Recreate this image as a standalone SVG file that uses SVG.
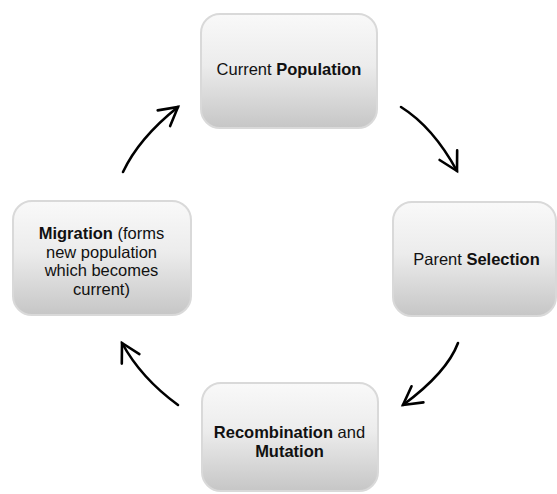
<svg xmlns="http://www.w3.org/2000/svg" width="557" height="494" viewBox="0 0 557 494">
<style>
.box{fill:url(#g);stroke:#d9d9d9;stroke-width:2}
.t{font-family:"Liberation Sans",Arial,sans-serif;font-size:16.5px;fill:#111;text-anchor:middle}
.b{font-weight:bold}
.c{fill:none;stroke:#000;stroke-width:2.6;stroke-linecap:round;marker-end:url(#ah)}
</style>
<defs>
<linearGradient id="g" x1="0" y1="0" x2="0" y2="1">
<stop offset="0" stop-color="#f9f9f9"/>
<stop offset="0.45" stop-color="#ececec"/>
<stop offset="1" stop-color="#c6c6c6"/>
</linearGradient>
<marker id="ah" markerUnits="userSpaceOnUse" orient="auto" refX="0" refY="0" markerWidth="40" markerHeight="40" viewBox="-30 -20 40 40" overflow="visible">
<path d="M-18,-10 L0,0 L-18,10" fill="none" stroke="#000" stroke-width="2.6" stroke-linecap="round" stroke-linejoin="miter"/>
</marker>
</defs>
<rect width="557" height="494" fill="#fff"/>
<g id="connectors">
<path class="c" d="M401,107 Q433,127 457,171"/>
<path class="c" d="M458,343 Q447,372.5 403,405"/>
<path class="c" d="M178,405 Q141,378 122,343"/>
<path class="c" d="M123,172 Q139,138 178,107"/>
</g>
<g id="current-population">
<rect class="box" x="201" y="14" width="176" height="114" rx="19"/>
<text class="t" x="289" y="75">Current <tspan class="b">Population</tspan></text>
</g>
<g id="parent-selection">
<rect class="box" x="393" y="202" width="163" height="114" rx="19"/>
<text class="t" x="476.5" y="265">Parent <tspan class="b">Selection</tspan></text>
</g>
<g id="recombination-mutation">
<rect class="box" x="202" y="383" width="176" height="108" rx="19"/>
<text class="t" x="289.5" y="438"><tspan class="b">Recombination</tspan> and</text>
<text class="t b" x="289.5" y="456.5">Mutation</text>
</g>
<g id="migration">
<rect class="box" x="13" y="201" width="178" height="114" rx="19"/>
<text class="t" x="101.5" y="239"><tspan class="b">Migration</tspan> (forms</text>
<text class="t" x="101.5" y="257.5">new population</text>
<text class="t" x="101.5" y="276">which becomes</text>
<text class="t" x="101.5" y="294.5">current)</text>
</g>
</svg>
